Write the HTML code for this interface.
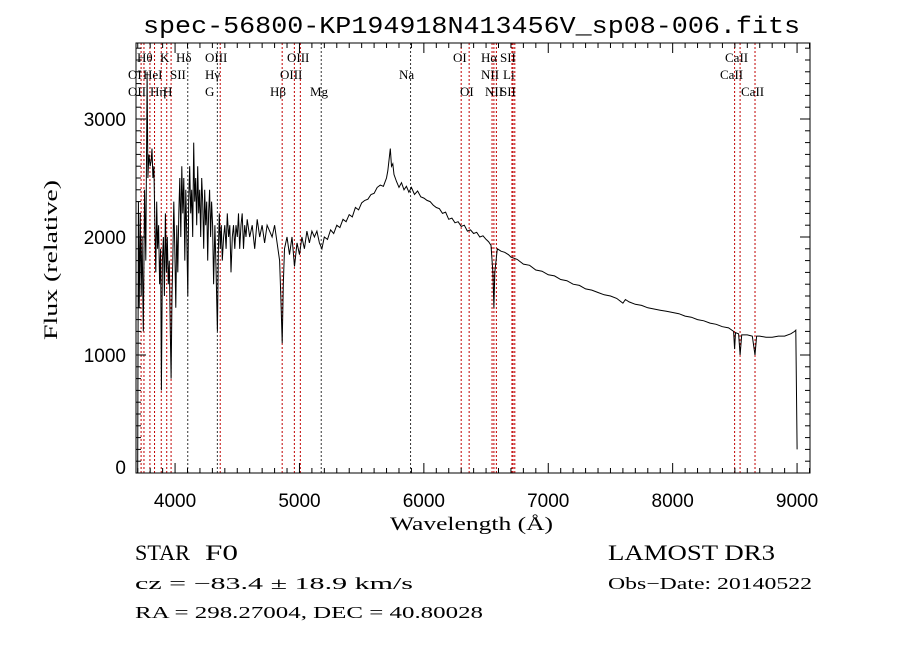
<!DOCTYPE html>
<html><head><meta charset="utf-8"><style>
html,body{margin:0;padding:0;background:#fff;}
svg{display:block;}
text{font-family:"Liberation Serif",serif;fill:#000;}
.m{font-family:"Liberation Mono",monospace;}
.s{font-family:"Liberation Sans",sans-serif;}
</style></head><body>
<svg id="chart" width="900" height="649" viewBox="0 0 900 649">
<rect width="900" height="649" fill="#fff"/>
<text x="143" y="33" font-size="24" textLength="657" lengthAdjust="spacingAndGlyphs" class="m">spec-56800-KP194918N413456V_sp08-006.fits</text>
<g id="lines"></g>
<g id="labels"></g>
<g id="series"></g>
<g id="axes"></g>
<text x="390" y="530" font-size="19" textLength="163" lengthAdjust="spacingAndGlyphs">Wavelength (Å)</text>
<text transform="translate(57,340) rotate(-90)" font-size="19" textLength="160" lengthAdjust="spacingAndGlyphs">Flux (relative)</text>
<text x="135" y="560" font-size="22" textLength="55" lengthAdjust="spacingAndGlyphs">STAR</text>
<text x="205" y="560" font-size="22" textLength="33" lengthAdjust="spacingAndGlyphs">F0</text>
<text x="608" y="560" font-size="22" textLength="167" lengthAdjust="spacingAndGlyphs">LAMOST DR3</text>
<text x="135" y="589" font-size="17" textLength="278" lengthAdjust="spacingAndGlyphs">cz = −83.4 ± 18.9 km/s</text>
<text x="608" y="589" font-size="17" textLength="204" lengthAdjust="spacingAndGlyphs">Obs−Date: 20140522</text>
<text x="135" y="618" font-size="17" textLength="348" lengthAdjust="spacingAndGlyphs">RA = 298.27004, DEC =  40.80028</text>
</svg>
<script>
const wave=[3700,3705,3712,3720,3728,3735,3745,3755,3765,3775,3782,3790,3800,3808,3815,3822,3830,3838,3845,3852,3860,3868,3876,3884,3890,3898,3906,3914,3922,3930,3938,3946,3954,3962,3968,3975,3982,3990,3998,4006,4014,4022,4030,4038,4046,4054,4062,4070,4078,4086,4094,4102,4110,4118,4126,4134,4142,4150,4158,4166,4174,4182,4190,4198,4206,4214,4222,4230,4238,4246,4254,4262,4270,4278,4286,4294,4302,4310,4320,4330,4340,4348,4356,4364,4372,4380,4390,4400,4410,4420,4430,4440,4450,4460,4470,4480,4490,4500,4510,4520,4530,4540,4550,4560,4570,4580,4600,4620,4640,4660,4680,4700,4720,4740,4760,4780,4800,4820,4840,4850,4861,4870,4880,4900,4920,4940,4960,4980,5000,5020,5040,5060,5080,5100,5120,5140,5160,5180,
5200,5225,5250,5275,5300,5325,5350,5375,5400,5425,5450,5475,5500,5525,5550,5575,5600,5625,5650,5675,5700,5710,5720,5730,5740,5750,5760,5780,5800,5820,5840,5860,5880,5900,5925,5950,5975,6000,6025,6050,6075,6100,6125,6150,6175,6200,6225,6250,6275,6300,6325,6350,6375,6400,6425,6450,6475,6500,6520,6540,6555,6563,6570,6590,6620,6650,6680,6700,6750,6800,6850,6900,6950,7000,7050,7100,7150,7200,7250,7300,7350,7400,7450,7500,7550,7600,7620,7650,7700,7750,7800,7850,7900,7950,8000,8050,8100,8150,8200,8250,8300,8350,8400,8450,8490,8498,8505,8530,8542,8555,8600,8640,8662,8675,8700,8750,8800,8850,8900,8950,8980,8990,9000];
const flux=[0,2300,1400,2200,1500,2000,1200,2400,1800,3400,2500,2700,2600,2650,2750,2500,2600,2100,1700,2300,1900,2100,1600,1900,700,1800,2000,1500,2200,1700,2000,1600,1800,1200,800,1500,1800,2300,1900,1400,2100,1700,2200,2500,2000,2600,2200,2500,1800,2400,2000,1500,2300,2600,2200,2400,2000,2800,2300,2500,2100,2600,2200,2400,2000,2500,2300,1900,2400,2100,2300,1800,2200,2400,2000,2300,2100,1600,2100,1700,1200,1900,2200,1900,2100,1800,2000,2100,1900,2200,2000,2100,1700,2000,2100,1900,2100,2000,2200,1900,2100,2200,1900,2100,2000,2150,2000,2100,1900,2150,2000,2100,1950,2100,2050,2000,2100,1950,1800,1500,1100,1600,1900,2000,1850,2000,1750,1950,1850,2000,1900,2050,1950,2050,2000,2050,1950,1900,
2000,1980,2060,2030,2100,2080,2150,2130,2190,2170,2250,2230,2290,2310,2320,2360,2370,2420,2440,2430,2500,2560,2650,2750,2600,2620,2530,2470,2420,2460,2400,2430,2380,2420,2360,2390,2340,2330,2310,2300,2270,2250,2240,2200,2210,2150,2160,2120,2130,2090,2100,2050,2060,2030,2040,2000,2010,1980,1960,1930,1700,1400,1700,1900,1880,1870,1850,1830,1810,1770,1760,1720,1710,1680,1670,1640,1630,1600,1590,1560,1550,1530,1510,1500,1480,1440,1470,1450,1430,1420,1400,1390,1380,1370,1360,1350,1330,1320,1300,1290,1270,1260,1240,1230,1200,1050,1190,1180,1000,1170,1170,1160,1000,1160,1160,1150,1150,1160,1160,1180,1200,1210,200];
const lineWaves=[3727,3750,3798,3835,3889,3933,3968,4102,4340,4363,4861,4959,5007,5175,5893,6300,6364,6548,6563,6583,6708,6717,6731,8498,8542,8662];
const lineLabels=[["Hθ",137,58],["K",160,58],["Hδ",176,58],["OIII",205,58],["OIII",287,58],["OI",453,58],["Hα",481,58],["SII",500,58],["CaII",725,58],
["OI",128,75],["HeI",143,75],["SII",170,75],["Hγ",205,75],["OIII",280,75],["Na",399,75],["NII",481,75],["Li",503,75],["CaII",720,75],
["OII",128,92],["Hη",150,92],["H",163,92],["G",205,92],["Hβ",270,92],["Mg",310,92],["OI",460,92],["NII",485,92],["SII",500,92],["CaII",741,92]];
const xTicks=[4000,5000,6000,7000,8000,9000];
const yTicks=[0,1000,2000,3000];
const L=136,R=810,T=43,B=473,xMin=3686,xMax=9104,yMin=0,yMax=3644;
const X=w=>L+(w-xMin)/(xMax-xMin)*(R-L);
const Y=f=>B-(f-yMin)/(yMax-yMin)*(B-T);
const NS="http://www.w3.org/2000/svg";
function mk(tag,attrs,parent){const e=document.createElementNS(NS,tag);for(const k in attrs)e.setAttribute(k,attrs[k]);parent.appendChild(e);return e;}
const gl=document.getElementById('lines'),glab=document.getElementById('labels'),gs=document.getElementById('series'),ga=document.getElementById('axes');
lineWaves.forEach(w=>{const l=mk('line',{x1:X(w),x2:X(w),y1:T,y2:B,stroke:(w===5893||w===4102||w===4340||w===5175)?'#333':'#c00000','stroke-width':1,'stroke-dasharray':'2,2'},gl);

});
lineLabels.forEach(d=>{const t=mk('text',{x:d[1],y:d[2]+4,'font-size':13},glab);t.textContent=d[0];

});
let pts=wave.map((w,i)=>X(w).toFixed(1)+','+Y(flux[i]).toFixed(1)).join(' ');
const pl=mk('polyline',{points:pts,fill:'none',stroke:'#000','stroke-width':1},gs);


const fr=mk('rect',{x:L,y:T,width:R-L,height:B-T,fill:'none',stroke:'#000','stroke-width':1},ga);


for(let w=3700;w<=9100;w+=100){const major=w%1000===0;const len=major?10:5;
mk('line',{x1:X(w),x2:X(w),y1:B,y2:B-len,stroke:'#000'},ga);mk('line',{x1:X(w),x2:X(w),y1:T,y2:T+len,stroke:'#000'},ga);}
for(let f=0;f<=3600;f+=100){const major=f%1000===0;const len=major?10:5;
mk('line',{x1:L,x2:L+len,y1:Y(f),y2:Y(f),stroke:'#000'},ga);mk('line',{x1:R,x2:R-len,y1:Y(f),y2:Y(f),stroke:'#000'},ga);}
xTicks.forEach(v=>{const t=mk('text',{x:X(v),y:507,'font-size':19,'text-anchor':'middle',class:'s'},ga);t.textContent=v;

});
yTicks.forEach(v=>{const t=mk('text',{x:126,y:Y(v)+7-(v===0?6:0),'font-size':19,'text-anchor':'end',class:'s'},ga);t.textContent=v;

});
</script>
</body></html>
